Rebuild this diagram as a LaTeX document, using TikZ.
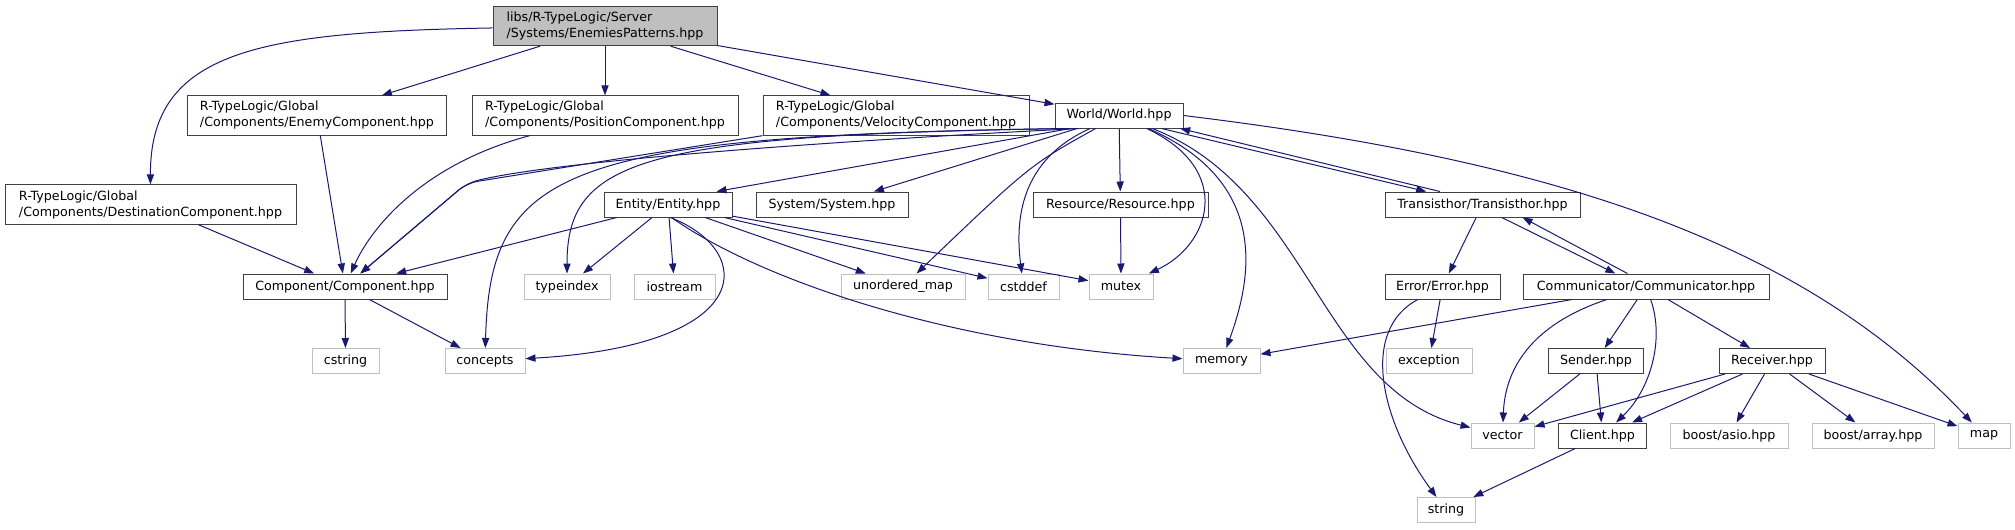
\documentclass[tikz,border=0pt]{standalone}
\usepackage{fontspec}
\usepackage{tikz}
\usetikzlibrary{arrows.meta}
\newfontfamily\graphfont{DejaVu Sans}
\definecolor{edgeblue}{HTML}{191970}
\definecolor{darkgrey}{HTML}{404040}
\definecolor{lightgrey}{HTML}{BFBFBF}
\tikzset{
  >={Triangle[length=7.5pt,width=5.4pt]},
  incl/.style={->,draw=edgeblue,fill=none,line width=0.75pt},
  wd/.style={minimum width=#1*0.75pt},
  filebox/.style={draw=darkgrey,line width=0.75pt,fill=white,inner sep=0pt,
    minimum height=18.75pt,font=\graphfont\fontsize{9.5}{12}\selectfont},
  twobox/.style={filebox,align=left,minimum height=29.5pt},
  sysbox/.style={filebox,draw=lightgrey},
  rootbox/.style={twobox,fill=lightgrey}
}

\begin{document}
\begin{tikzpicture}[x=0.75pt,y=-0.75pt]
  \useasboundingbox (0,0) rectangle (2015,529);
  % headers of the project
  \node[rootbox,wd=224] (root) at (605,26) {libs/R-TypeLogic/Server\\/Systems/EnemiesPatterns.hpp};
  \node[twobox,wd=259] (enemy) at (317,115.5) {R-TypeLogic/Global\\/Components/EnemyComponent.hpp};
  \node[twobox,wd=266] (position) at (605,115.5) {R-TypeLogic/Global\\/Components/PositionComponent.hpp};
  \node[twobox,wd=266] (velocity) at (896,115.5) {R-TypeLogic/Global\\/Components/VelocityComponent.hpp};
  \node[filebox,wd=128] (world) at (1119,115.5) {World/World.hpp};
  \node[twobox,wd=291] (dest) at (150.5,204.5) {R-TypeLogic/Global\\/Components/DestinationComponent.hpp};
  \node[filebox,wd=128] (entity) at (668,204.5) {Entity/Entity.hpp};
  \node[filebox,wd=152] (system) at (832,204.5) {System/System.hpp};
  \node[filebox,wd=175] (resource) at (1120.5,204.5) {Resource/Resource.hpp};
  \node[filebox,wd=195] (transisthor) at (1482.5,204.5) {Transisthor/Transisthor.hpp};
  \node[filebox,wd=204] (component) at (345,286.5) {Component/Component.hpp};
  \node[filebox,wd=115] (errorh) at (1442.5,286.5) {Error/Error.hpp};
  \node[filebox,wd=246] (communicator) at (1646,286.5) {Communicator/Communicator.hpp};
  \node[filebox,wd=95] (sender) at (1596,361) {Sender.hpp};
  \node[filebox,wd=106] (receiver) at (1772,361) {Receiver.hpp};
  \node[filebox,wd=88] (client) at (1602.5,435.5) {Client.hpp};
  % system headers
  \node[sysbox,wd=86] (typeindex) at (567,286.5) {typeindex};
  \node[sysbox,wd=81] (iostream) at (674.5,286.5) {iostream};
  \node[sysbox,wd=124] (umap) at (903,286.5) {unordered\_map};
  \node[sysbox,wd=71] (cstddef) at (1023.5,286.5) {cstddef};
  \node[sysbox,wd=64] (mutex) at (1121,286.5) {mutex};
  \node[sysbox,wd=67] (cstring) at (345.5,361) {cstring};
  \node[sysbox,wd=80] (concepts) at (485,361) {concepts};
  \node[sysbox,wd=77] (memory) at (1221.5,361) {memory};
  \node[sysbox,wd=86] (exception) at (1429,361) {exception};
  \node[sysbox,wd=63] (vector) at (1502.5,435.5) {vector};
  \node[sysbox,wd=118] (asio) at (1729,435.5) {boost/asio.hpp};
  \node[sysbox,wd=122] (array) at (1873,435.5) {boost/array.hpp};
  \node[sysbox,wd=52] (map) at (1984,435.5) {map};
  \node[sysbox,wd=58] (string) at (1446,510) {string};
  % root
  \draw[incl] (root) .. controls (260,32) and (150,50) .. (dest);
  \draw[incl] (root) -- (enemy);
  \draw[incl] (root) -- (position);
  \draw[incl] (root) -- (velocity);
  \draw[incl] (root) -- (world);
  % components
  \draw[incl] (dest) -- (component);
  \draw[incl] (enemy) -- (component);
  \draw[incl] (position) .. controls (420,165) and (370,230) .. (component);
  \draw[incl,rounded corners=8pt] (velocity.south west) -- (467,183) -- (component);
  \draw[incl] (component) -- (cstring);
  \draw[incl] (component) -- (concepts);
  % world
  \draw[incl,rounded corners=8pt] (world.198) .. controls (850,140) and (560,160) .. (467,183) -- (component);
  \draw[incl] (world.196) .. controls (560,135) and (490,170) .. (concepts);
  \draw[incl] (world.194) .. controls (640,135) and (567,160) .. (typeindex);
  \draw[incl] (world.195) -- (entity.15);
  \draw[incl] (world) -- (system);
  \draw[incl] (world) .. controls (1030,165) .. (umap);
  \draw[incl] (world) .. controls (1020,160) and (1015,220) .. (cstddef);
  \draw[incl] (world) -- (resource);
  \draw[incl] (world) .. controls (1235,170) and (1210,245) .. (mutex);
  \draw[incl] (world) .. controls (1265,180) and (1255,270) .. (memory);
  \draw[incl] (world) .. controls (1310,190) and (1320,390) .. (vector);
  \draw[incl] (world.east) .. controls (1550,160) and (1800,240) .. (map);
  \draw[incl] (world.-17) -- (transisthor.167);
  \draw[incl] (transisthor.163) -- (world.-12);
  % entity
  \draw[incl] (entity) -- (component);
  \draw[incl] (entity) -- (typeindex);
  \draw[incl] (entity) -- (iostream);
  \draw[incl] (entity.-80) .. controls (755,250) and (760,345) .. (concepts);
  \draw[incl] (entity.-75) .. controls (760,280) and (950,345) .. (memory);
  \draw[incl] (entity) -- (umap);
  \draw[incl] (entity) -- (cstddef);
  \draw[incl] (entity) -- (mutex);
  \draw[incl] (resource) -- (mutex);
  % transisthor
  \draw[incl] (transisthor) -- (errorh);
  \draw[incl] (transisthor.-34) -- (communicator.157);
  \draw[incl] (communicator.145) -- (transisthor.-18);
  \draw[incl] (errorh) -- (exception);
  \draw[incl] (errorh) .. controls (1360,330) and (1380,420) .. (string);
  \draw[incl] (communicator) -- (memory);
  \draw[incl] (communicator) .. controls (1530,325) and (1505,370) .. (vector);
  \draw[incl] (communicator) -- (sender);
  \draw[incl] (communicator) .. controls (1665,340) and (1650,390) .. (client);
  \draw[incl] (communicator) -- (receiver);
  \draw[incl] (sender) -- (vector);
  \draw[incl] (sender) -- (client);
  \draw[incl] (receiver) -- (vector);
  \draw[incl] (receiver) -- (client);
  \draw[incl] (receiver) -- (asio);
  \draw[incl] (receiver) -- (array);
  \draw[incl] (receiver) -- (map);
  \draw[incl] (client) -- (string);
\end{tikzpicture}
\end{document}
